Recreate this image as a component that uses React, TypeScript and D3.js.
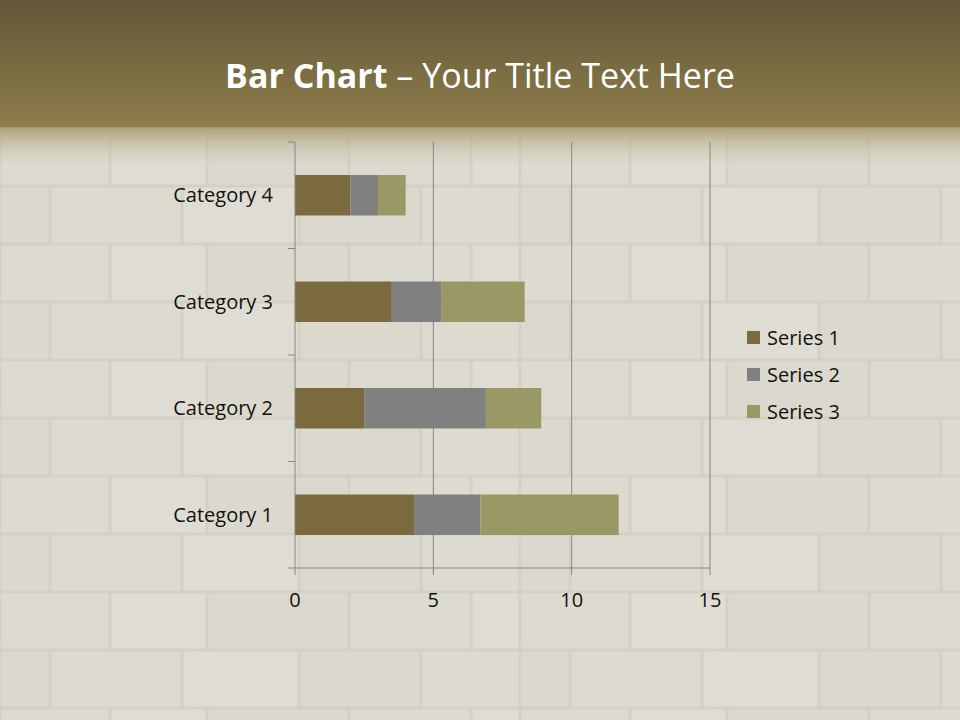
import React from "react";
import * as d3 from "d3";

const categories = ["Category 1", "Category 2", "Category 3", "Category 4"];
const seriesNames = ["Series 1", "Series 2", "Series 3"];
const series1 = [4.3, 2.5, 3.5, 2.0];
const series2 = [2.4, 4.4, 1.8, 1.0];
const series3 = [5.0, 2.0, 3.0, 1.0];
const xTicks = [0, 5, 10, 15];
const colors = ["#7a6a3e", "#808080", "#9a9966"];

const W = 960, H = 720;
const FONT = "'Open Sans', Lato, sans-serif";

// decorative wall bricks: [x, y, w, h] inside a 520x116 tile
const bricks: [number, number, number, number][] = [
  [0, 0, 110, 58], [110, 0, 97, 58], [207, 0, 142, 58], [349, 0, 122, 58], [471, 0, 49, 58],
  [0, 58, 50, 58], [50, 58, 132, 58], [182, 58, 117, 58], [299, 58, 122, 58], [421, 58, 99, 58],
];

export default function App() {
  const x = d3.scaleLinear().domain([0, 15]).range([295, 710]);
  const y = d3.scaleBand<string>().domain([...categories].reverse()).range([142, 568]).paddingInner(0.62).paddingOuter(0.31);
  const stack = d3.stack<any>().keys(seriesNames);
  const rows = categories.map((c, i) => ({ cat: c, "Series 1": series1[i], "Series 2": series2[i], "Series 3": series3[i] }));
  const layers = stack(rows);
  const bandEdges = [...categories].reverse().map((c, i) => 142 + (i * 426) / 4).concat([568]);

  return (
    <svg width={W} height={H} style={{ position: "absolute", left: 0, top: 0 }}>
      <defs>
        <linearGradient id="hdr" x1="0" y1="0" x2="0" y2="1">
          <stop offset="0" stopColor="#615636" />
          <stop offset="1" stopColor="#8f7e4c" />
        </linearGradient>
        <linearGradient id="fade" x1="0" y1="0" x2="0" y2="1">
          <stop offset="0" stopColor="#a8996c" stopOpacity="0.9" />
          <stop offset="1" stopColor="#dcd9cd" stopOpacity="0" />
        </linearGradient>
        <pattern id="brick" width="520" height="116" patternUnits="userSpaceOnUse" x="0" y="12">
          <rect width="520" height="116" fill="#d3d0c4" />
          {bricks.map((b, i) => (
            <rect key={i} x={b[0] + 1.5} y={b[1] + 1.5} width={b[2] - 3} height={b[3] - 3} rx={2}
              fill={i % 3 === 0 ? "#dddbd0" : i % 3 === 1 ? "#dfddd3" : "#dbd9ce"} />
          ))}
        </pattern>
      </defs>
      <rect width={W} height={H} fill="#dcdacf" />
      <rect width={W} height={H} fill="url(#brick)" />
      <rect width={W} height={128} fill="url(#hdr)" />
      <rect y={127} width={W} height={45} fill="url(#fade)" />

      <text x={480} y={88} textAnchor="middle" fill="#ffffff" fontFamily={FONT} fontSize={34}>
        <tspan fontWeight="bold">Bar Chart</tspan>
        <tspan> – Your Title Text Here</tspan>
      </text>

      {xTicks.slice(1).map((t) => (
        <line key={t} x1={x(t)} x2={x(t)} y1={142} y2={575} stroke="#868686" strokeWidth={1} />
      ))}

      {layers.map((layer, si) => (
        <g key={layer.key} fill={colors[si]}>
          {layer.map((d, i) => (
            <rect key={i} x={x(d[0])} y={y(categories[i])!} width={x(d[1]) - x(d[0])} height={y.bandwidth()} />
          ))}
        </g>
      ))}

      <line x1={295} x2={295} y1={142} y2={575} stroke="#868686" />
      <line x1={295} x2={710} y1={568} y2={568} stroke="#868686" />
      {bandEdges.map((e, i) => (
        <line key={i} x1={288} x2={295} y1={e} y2={e} stroke="#868686" />
      ))}

      {categories.map((c) => (
        <text key={c} x={273} y={y(c)! + y.bandwidth() / 2} dy="0.35em" textAnchor="end" fontFamily={FONT} fontSize={20} fill="#111111">
          {c}
        </text>
      ))}
      {xTicks.map((t) => (
        <text key={t} x={x(t)} y={607} textAnchor="middle" fontFamily={FONT} fontSize={20} fill="#111111">
          {t}
        </text>
      ))}

      {seriesNames.map((s, i) => (
        <g key={s} transform={`translate(747, ${338 + i * 37})`}>
          <rect x={0} y={-7} width={13} height={13} fill={colors[i]} />
          <text x={20} y={0} dy="0.35em" fontFamily={FONT} fontSize={20} fill="#111111">{s}</text>
        </g>
      ))}
    </svg>
  );
}
